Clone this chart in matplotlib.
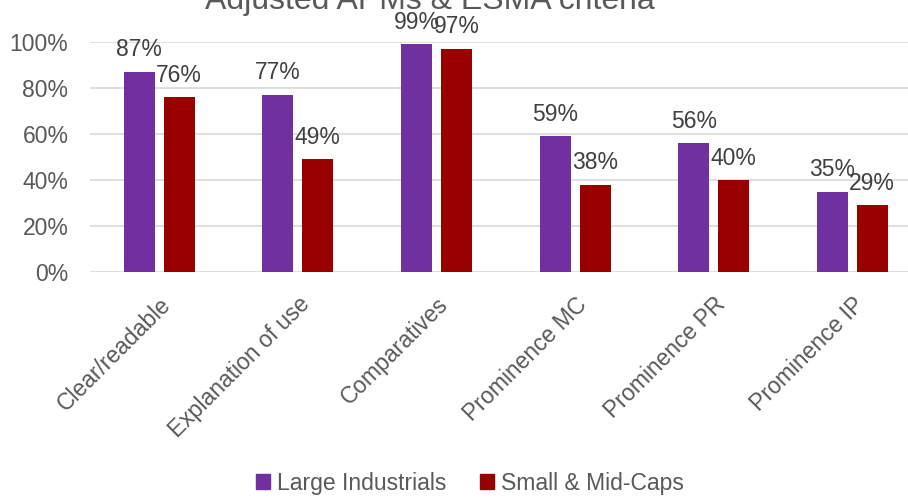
import matplotlib
matplotlib.use("Agg")
import matplotlib.pyplot as plt
import numpy as np
from matplotlib.patches import Patch

categories = ["Clear/readable", "Explanation of use", "Comparatives",
              "Prominence MC", "Prominence PR", "Prominence IP"]
large = [87, 77, 99, 59, 56, 35]
small = [76, 49, 97, 38, 40, 29]
series_names = ["Large Industrials", "Small & Mid-Caps"]
yticks = [0, 20, 40, 60, 80, 100]
title = "Adjusted APMs & ESMA criteria"

plt.rcParams['font.family'] = ['Liberation Sans', 'DejaVu Sans']

W, H = 908, 498
fig = plt.figure(figsize=(W / 100, H / 100), dpi=100)
left, right = 90 / W, 908 / W
bottom, top = 1 - 272 / H, 1 - 42 / H
ax = fig.add_axes([left, bottom, right - left, top - bottom])

x = np.arange(len(categories))
bw = 31 / 138.6
gap = 9 / 138.6
purple = "#7030A0"
red = "#990000"
ax.bar(x - (bw + gap) / 2, large, bw, color=purple, zorder=3)
ax.bar(x + (bw + gap) / 2, small, bw, color=red, zorder=3)

for xi, v in zip(x - (bw + gap) / 2, large):
    ax.annotate(f"{v}%", (xi, v), xytext=(0, 15.8), textcoords="offset points",
                ha="center", va="center", fontsize=16.5, color="#404040",
                annotation_clip=False)
for xi, v in zip(x + (bw + gap) / 2, small):
    ax.annotate(f"{v}%", (xi, v), xytext=(0, 15.8), textcoords="offset points",
                ha="center", va="center", fontsize=16.5, color="#404040",
                annotation_clip=False)

ax.set_xlim(-0.5, -0.5 + (908 - 90) / 138.6)
ax.set_ylim(0, 100)
ax.set_yticks(yticks)
ax.set_yticklabels([f"{t}%" for t in yticks], fontsize=16.5, color="#595959")
ax.set_xticks(x)
ax.set_xticklabels(categories, rotation=45, ha="right", rotation_mode="anchor",
                   fontsize=16.5, color="#595959")
ax.tick_params(axis="both", length=0)
ax.tick_params(axis="y", pad=15.5)
ax.tick_params(axis="x", pad=15)
ax.grid(axis="y", color="#D9D9D9", lw=1.2, zorder=0)
for s in ax.spines.values():
    s.set_visible(False)

fig.text(430 / W, 1 - 9 / H, title, ha="center", va="baseline",
         fontsize=23, color="#595959")

handles = [Patch(color=purple), Patch(color=red)]
fig.legend(handles, series_names, loc="center", bbox_to_anchor=(470 / W, 1 - 483 / H),
           ncol=2, frameon=False, fontsize=16.5, labelcolor="#595959",
           handlelength=0.6, handleheight=0.6, handletextpad=0.3, columnspacing=1.5)

fig.savefig("out.png", dpi=100)
